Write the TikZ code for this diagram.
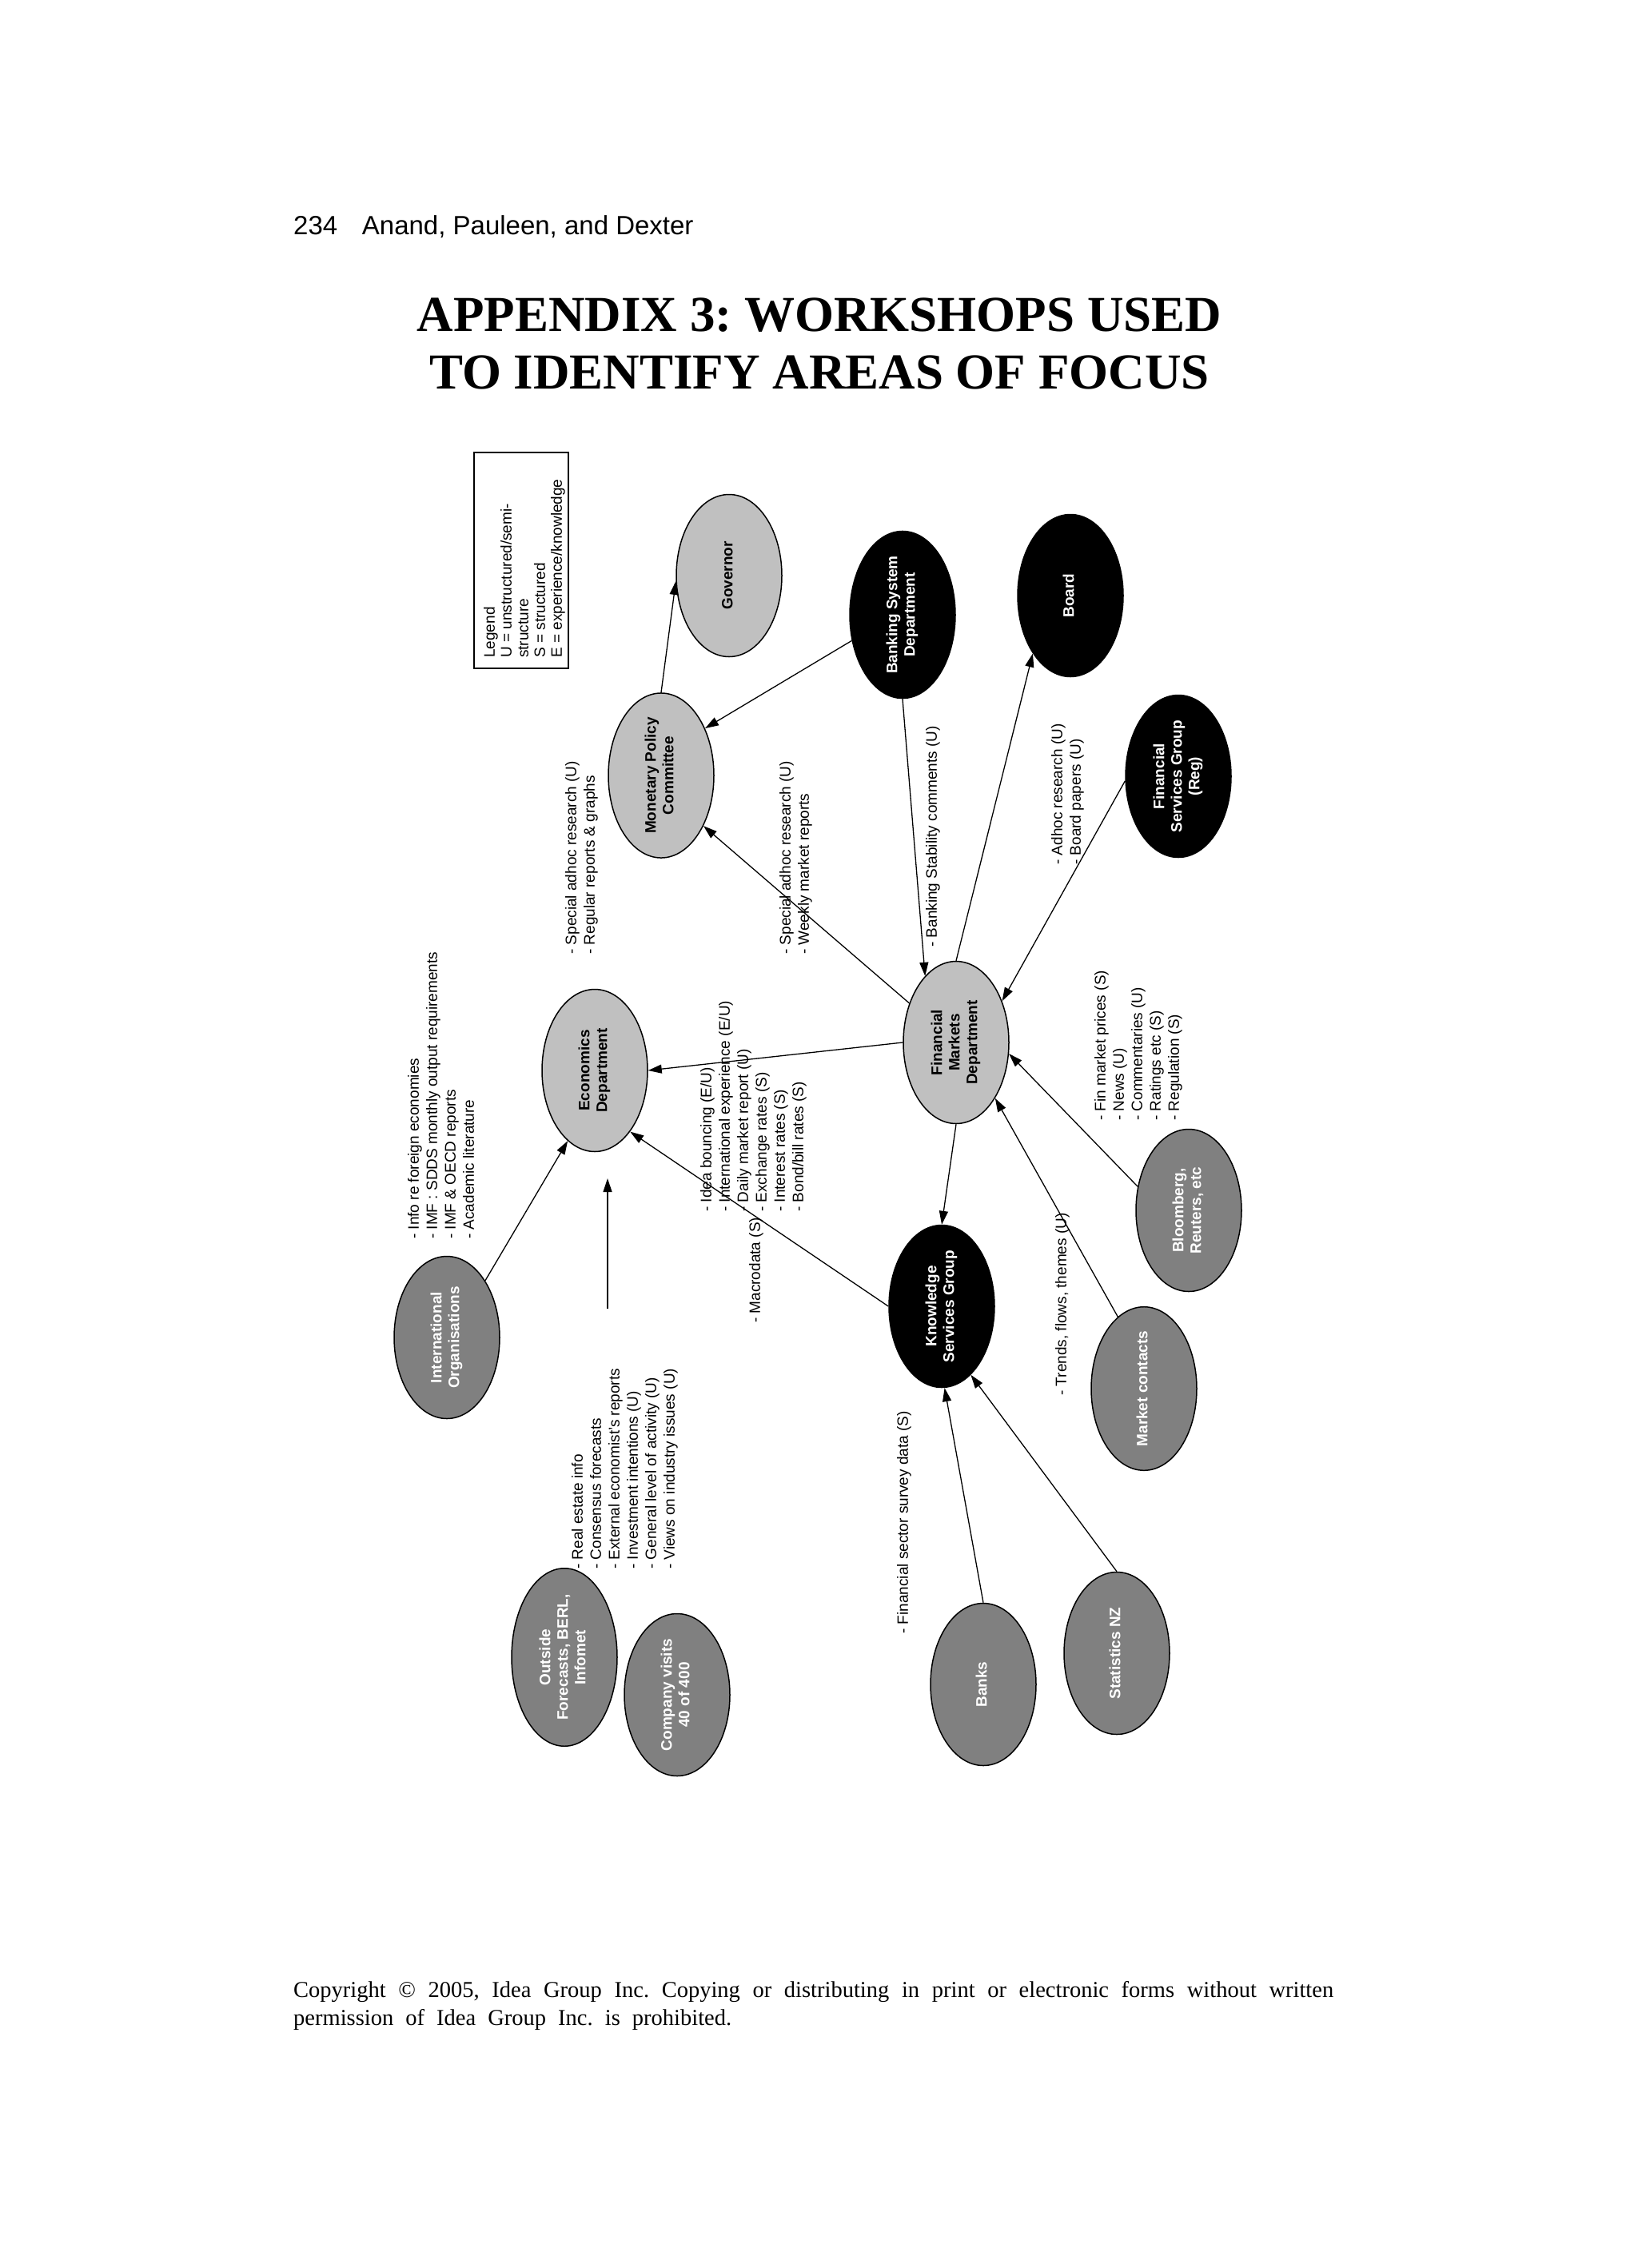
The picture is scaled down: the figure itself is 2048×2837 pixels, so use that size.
\documentclass[tikz,border=0pt]{standalone}
\usepackage{fontspec}
\setmainfont{Liberation Serif}
\setsansfont{Liberation Sans}
\usetikzlibrary{shapes.geometric,arrows.meta}
\definecolor{lgray}{RGB}{192,192,192}
\definecolor{mgray}{RGB}{128,128,128}
\newcommand{\rtext}[1]{\rotatebox{90}{\begin{tabular}{@{}c@{}}#1\end{tabular}}}
\frenchspacing
\begin{document}
\begin{tikzpicture}[x=1pt,y=-1pt,
  ell/.style={ellipse, draw=black, line width=1.5pt, minimum width=132pt, minimum height=203pt, inner sep=0pt, font=\sffamily\bfseries\fontsize{19}{22}\selectfont},
  lightnode/.style={ell, fill=lgray, text=black},
  darknode/.style={ell, fill=black, text=white},
  midnode/.style={ell, fill=mgray, text=white},
  lbl/.style={rotate=90, anchor=north west, inner sep=0pt, align=left, font=\sffamily\fontsize{19}{23}\selectfont},
  leglbl/.style={lbl, font=\sffamily\fontsize{19}{21}\selectfont},
  conn/.style={line width=1.3pt, -{Triangle[length=17pt,width=11pt]}},
]
\useasboundingbox (0,0) rectangle (2048,2837);
\fill[white] (0,0) rectangle (2048,2837);

% header and title
\node[anchor=base west, inner sep=0pt, font=\sffamily\fontsize{33}{40}\selectfont] (hdr) at (367,293) {234\hspace{0.93em}Anand, Pauleen, and Dexter};
\node[anchor=base, inner sep=0pt, font=\bfseries\fontsize{63}{72}\selectfont] (t1) at (1025,414) {APPENDIX 3: WORKSHOPS USED};
\node[anchor=base, inner sep=0pt, font=\bfseries\fontsize{63}{72}\selectfont] (t2) at (1025,486) {TO IDENTIFY AREAS OF FOCUS};

% copyright
\node[anchor=base west, inner sep=0pt, font=\fontsize{28.5}{34}\selectfont] (c1) at (367,2498) {\makebox[1301pt][s]{Copyright © 2005, Idea Group Inc. Copying or distributing in print or electronic forms without written}};
\node[anchor=base west, inner sep=0pt, font=\fontsize{28.5}{34}\selectfont] (c2) at (367,2533) {\makebox[548pt][s]{permission of Idea Group Inc. is prohibited.}};

% legend
\node[draw=black, line width=1.5pt, minimum width=118pt, minimum height=270pt, inner sep=0pt] (legbox) at (652,701) {};
\node[leglbl] (legtext) at (605,823) {Legend\\U = unstructured/semi-\\structure\\S = structured\\E = experience/knowledge};

% nodes
\node[lightnode] (gov) at (912,720) {\rtext{Governor}};
\node[lightnode] (mpc) at (827,970) {\rtext{Monetary Policy\\Committee}};
\node[darknode] (bsd) at (1129,769) {\rtext{Banking System\\Department}};
\node[darknode] (board) at (1339,745) {\rtext{Board}};
\node[darknode] (fsg) at (1474,971) {\rtext{Financial\\Services Group\\(Reg)}};
\node[lightnode] (econ) at (744,1339) {\rtext{Economics\\Department}};
\node[lightnode] (fmd) at (1196,1304) {\rtext{Financial\\Markets\\Department}};
\node[darknode] (ksg) at (1178,1634) {\rtext{Knowledge\\Services Group}};
\node[midnode] (io) at (559,1673) {\rtext{International\\Organisations}};
\node[midnode] (bloom) at (1487,1514) {\rtext{Bloomberg,\\Reuters, etc}};
\node[midnode] (mc) at (1431,1737) {\rtext{Market contacts}};
\node[midnode] (outside) at (706,2073) {\rtext{Outside\\Forecasts, BERL,\\Infomet}};
\node[midnode] (company) at (847,2120) {\rtext{Company visits\\40 of 400}};
\node[midnode] (banks) at (1230,2107) {\rtext{Banks}};
\node[midnode] (stats) at (1397,2068) {\rtext{Statistics NZ}};

% free arrow ends
\coordinate (va) at (760,1637);
\coordinate (vb) at (760,1474);

% connectors
\draw[conn] (mpc.north) -- (gov.186);
\draw[conn] (bsd.207) -- (mpc.47);
\draw[conn] (fmd.140) -- (mpc.310);
\draw[conn] (bsd.south) -- (fmd.115);
\draw[conn] (fmd.north) -- (board.237);
\draw[conn] (fsg.185) -- (fmd.42);
\draw[conn] (fmd.west) -- (econ.east);
\draw[conn] (ksg.west) -- (econ.300);
\draw[conn] (fmd.south) -- (ksg.north);
\draw[conn] (bloom.155) -- (fmd.348);
\draw[conn] (mc.110) -- (fmd.305);
\draw[conn] (banks.north) -- (ksg.272);
\draw[conn] (stats.north) -- (ksg.293);
\draw[conn] (io.56) -- (econ.249);
\draw[conn] (va) -- (vb);

% labels
\node[lbl] (la) at (510,1550) {- Info re foreign economies\\- IMF : SDDS monthly output requirements\\- IMF \& OECD reports\\- Academic literature};
\node[lbl] (lb) at (707,1194) {- Special adhoc research (U)\\- Regular reports \& graphs};
\node[lbl] (lc) at (975,1194) {- Special adhoc research (U)\\- Weekly market reports};
\node[lbl] (ld) at (1158,1185) {- Banking Stability comments (U)};
\node[lbl] (le) at (1315,1082) {- Adhoc research (U)\\- Board papers (U)};
\node[lbl] (lf) at (876,1516) {- Idea bouncing (E/U)\\- International experience (E/U)\\- Daily market report (U)\\- Exchange rates (S)\\- Interest rates (S)\\- Bond/bill rates (S)};
\node[lbl] (lg) at (1369,1402) {- Fin market prices (S)\\- News (U)\\- Commentaries (U)\\- Ratings etc (S)\\- Regulation (S)};
\node[lbl] (lh) at (1320,1746) {- Trends, flows, themes (U)};
\node[lbl] (li) at (937,1655) {- Macrodata (S)};
\node[lbl] (lj) at (715,1963) {- Real estate info\\- Consensus forecasts\\- External economist's reports\\- Investment intentions (U)\\- General level of activity (U)\\- Views on industry issues (U)};
\node[lbl] (lk) at (1122,2044) {- Financial sector survey data (S)};
\end{tikzpicture}
\end{document}
